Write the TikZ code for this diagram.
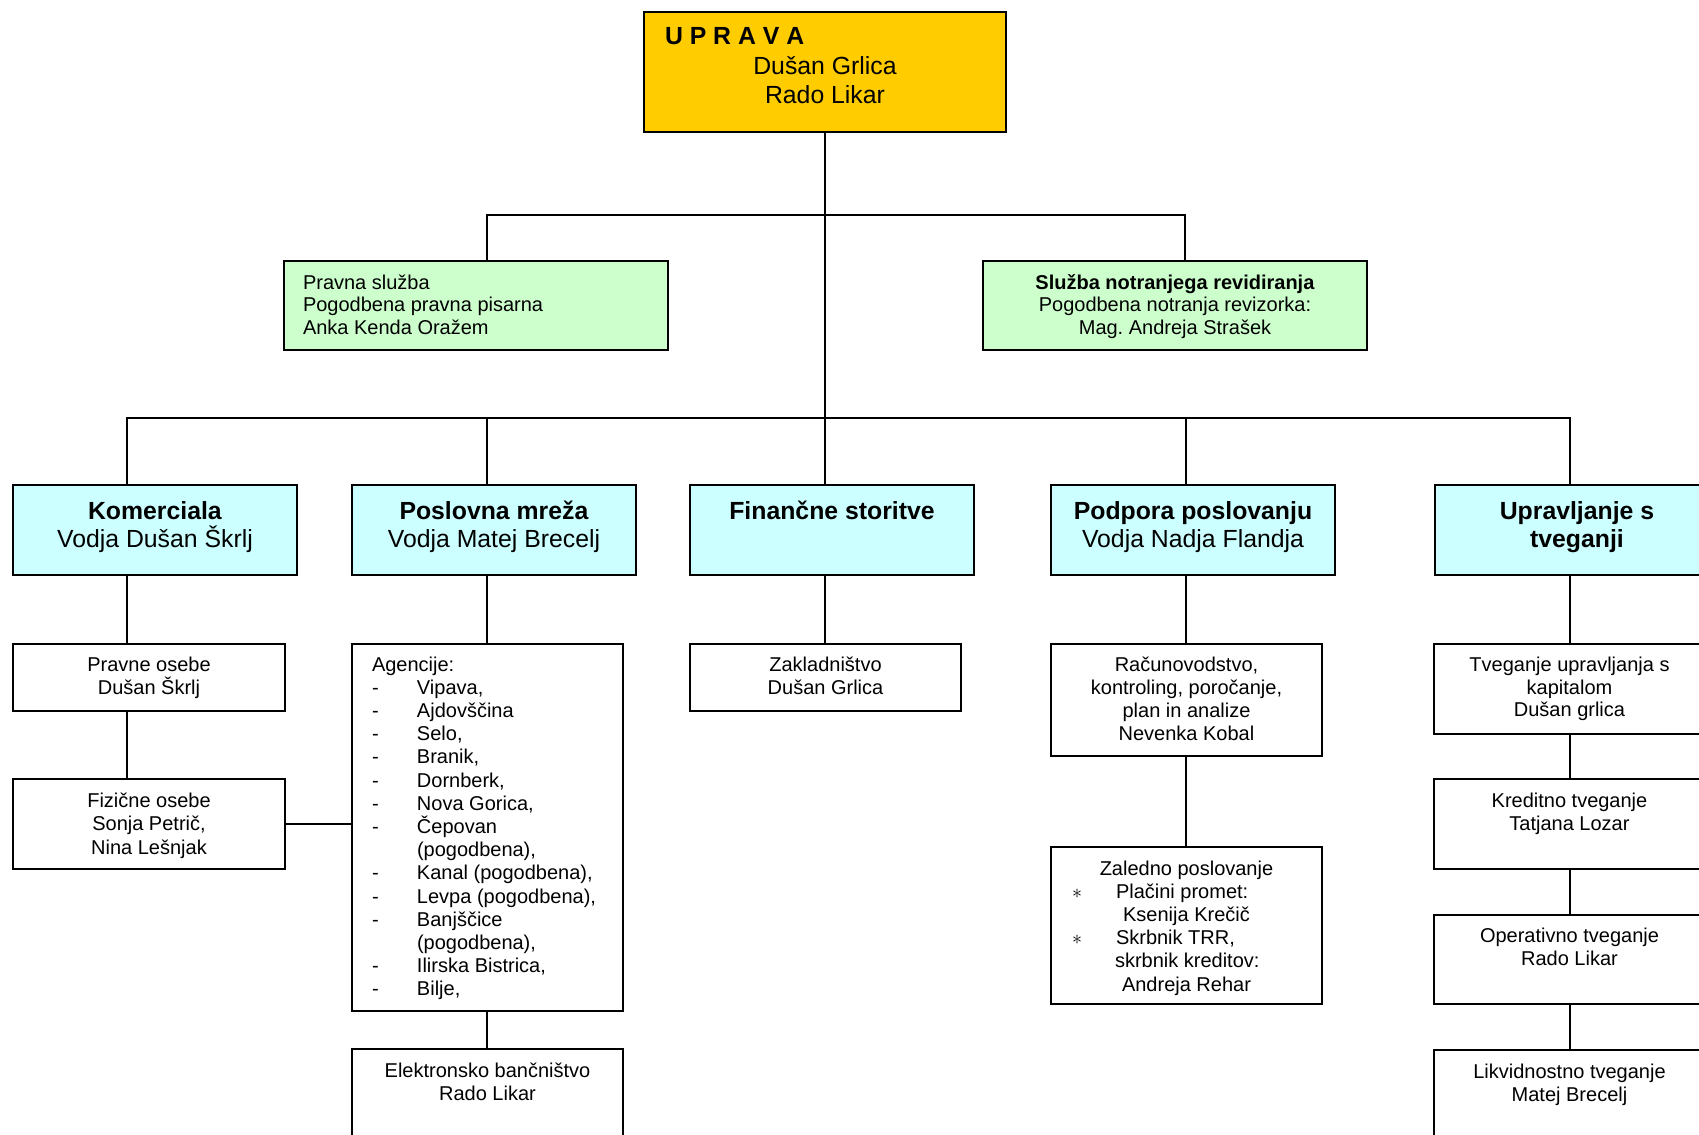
\documentclass[tikz,border=0pt]{standalone}
\usepackage{fontspec}
\setmainfont{Liberation Sans}
\frenchspacing
\definecolor{upy}{HTML}{FFCC00}
\definecolor{grn}{HTML}{CCFFCC}
\definecolor{cyn}{HTML}{CCFFFF}
\newcommand\smf{\fontsize{10pt}{11.6pt}\selectfont}
\newcommand\grf{\fontsize{10pt}{11.3pt}\selectfont}
\newcommand\bgf{\fontsize{12.4pt}{14.3pt}\selectfont}
\newcommand\agitem[1]{\hspace*{10pt}\makebox[22.5pt][l]{-}#1}
\newcommand\zbitem[1]{\hspace*{10.5pt}\makebox[22pt][l]{$\ast$}#1}
\newcommand\ctrline[1]{\makebox[\linewidth][c]{#1}}
\tikzset{
  ob/.style={draw=black, line width=1pt, inner sep=0pt, outer sep=0pt},
  conn/.style={draw=black, line width=0.8pt}
}
\begin{document}
\begin{tikzpicture}[x=0.5pt,y=-0.5pt]
\useasboundingbox (0,0) rectangle (1699,1135);
\fill[white] (0,0) rectangle (1699,1135);
\clip (0,0) rectangle (1699,1135);

% top
\node[ob, fill=upy] (uprava) at (825,72) {\parbox[t][60pt][t]{181pt}{\bgf\rule{0pt}{16pt}\hspace*{10.5pt}\textbf{U P R A V A}\par\vspace{1.2pt}\centering Dušan Grlica\\Rado Likar\par}};

\node[ob, fill=grn] (pravna) at (476,305.5) {\parbox[t][44.5pt][t]{192pt}{\grf\raggedright\leftskip=9.5pt\rule{0pt}{14pt}Pravna služba\\Pogodbena pravna pisarna\\Anka Kenda Oražem\par}};
\node[ob, fill=grn] (reviz) at (1175,305.5) {\parbox[t][44.5pt][t]{192pt}{\grf\centering\rule{0pt}{14pt}\textbf{Služba notranjega revidiranja}\\Pogodbena notranja revizorka:\\Mag. Andreja Strašek\par}};

% second row
\node[ob, fill=cyn] (kom) at (155,530) {\parbox[t][45pt][t]{142pt}{\bgf\centering\rule{0pt}{17pt}\textbf{Komerciala}\\Vodja Dušan Škrlj\par}};
\node[ob, fill=cyn] (posl) at (494,530) {\parbox[t][45pt][t]{142pt}{\bgf\centering\rule{0pt}{17pt}\textbf{Poslovna mreža}\\Vodja Matej Brecelj\par}};
\node[ob, fill=cyn] (fin) at (832,530) {\parbox[t][45pt][t]{142pt}{\bgf\centering\rule{0pt}{17pt}\textbf{Finančne storitve}\par}};
\node[ob, fill=cyn] (podp) at (1193,530) {\parbox[t][45pt][t]{142pt}{\bgf\centering\rule{0pt}{17pt}\textbf{Podpora poslovanju}\\Vodja Nadja Flandja\par}};
\node[ob, fill=cyn] (upr) at (1577,530) {\parbox[t][45pt][t]{142pt}{\bgf\centering\rule{0pt}{17pt}\textbf{Upravljanje s}\\\textbf{tveganji}\par}};

% Komerciala column
\node[ob, fill=white] (pravne) at (149,677.5) {\parbox[t][33.5pt][t]{136pt}{\smf\centering\rule{0pt}{13.5pt}Pravne osebe\\Dušan Škrlj\par}};
\node[ob, fill=white] (fiz) at (149,824) {\parbox[t][45pt][t]{136pt}{\smf\centering\rule{0pt}{14.3pt}Fizične osebe\\Sonja Petrič,\\Nina Lešnjak\par}};

% Poslovna mreza column
\node[ob, fill=white] (agen) at (487.5,827.5) {\parbox[t][183.5pt][t]{135.5pt}{\smf\raggedright
\rule{0pt}{13.5pt}\hspace*{10pt}Agencije:\\
\agitem{Vipava,}\\
\agitem{Ajdovščina}\\
\agitem{Selo,}\\
\agitem{Branik,}\\
\agitem{Dornberk,}\\
\agitem{Nova Gorica,}\\
\agitem{Čepovan}\\
\hspace*{32.5pt}(pogodbena),\\
\agitem{Kanal (pogodbena),}\\
\agitem{Levpa (pogodbena),}\\
\agitem{Banjščice}\\
\hspace*{32.5pt}(pogodbena),\\
\agitem{Ilirska Bistrica,}\\
\agitem{Bilje,}\par}};
\node[ob, fill=white] (elek) at (487.5,1097) {\parbox[t][48pt][t]{135.5pt}{\smf\centering\rule{0pt}{14pt}Elektronsko bančništvo\\Rado Likar\par}};

% Financne storitve column
\node[ob, fill=white] (zak) at (825.5,677.5) {\parbox[t][33.5pt][t]{135.5pt}{\smf\centering\rule{0pt}{13.5pt}Zakladništvo\\Dušan Grlica\par}};

% Podpora column
\node[ob, fill=white] (rac) at (1186.5,700) {\parbox[t][56pt][t]{135.5pt}{\smf\centering\rule{0pt}{13.5pt}Računovodstvo,\\kontroling, poročanje,\\plan in analize\\Nevenka Kobal\par}};
\node[ob, fill=white] (zal) at (1186.5,925.5) {\parbox[t][78.5pt][t]{135.5pt}{\smf
\ctrline{\rule{0pt}{14pt}Zaledno poslovanje}\\
\zbitem{Plačini promet:}\\
\ctrline{Ksenija Krečič}\\
\zbitem{Skrbnik TRR,}\\
\hspace*{32pt}skrbnik kreditov:\\
\ctrline{Andreja Rehar}\par}};

% Upravljanje s tveganji column
\node[ob, fill=white] (tveg) at (1569.5,689) {\parbox[t][45pt][t]{135.5pt}{\smf\baselineskip=11.3pt\centering\rule{0pt}{13.8pt}Tveganje upravljanja s\\kapitalom\\Dušan grlica\par}};
\node[ob, fill=white] (kred) at (1569.5,824) {\parbox[t][45pt][t]{135.5pt}{\smf\centering\rule{0pt}{14pt}Kreditno tveganje\\Tatjana Lozar\par}};
\node[ob, fill=white] (oper) at (1569.5,959.5) {\parbox[t][44.5pt][t]{135.5pt}{\smf\centering\rule{0pt}{13.5pt}Operativno tveganje\\Rado Likar\par}};
\node[ob, fill=white] (likv) at (1569.5,1095) {\parbox[t][45pt][t]{135.5pt}{\smf\centering\rule{0pt}{14pt}Likvidnostno tveganje\\Matej Brecelj\par}};

% junction points
\coordinate (c1l) at (487,215);
\coordinate (c1r) at (1185,215);
\coordinate (k1) at (127,418);
\coordinate (k2) at (487,418);
\coordinate (k4) at (1186,418);
\coordinate (k5) at (1570,418);
\coordinate (k3) at (uprava.south |- k1);

% connectors
\draw[conn] (uprava.south) -- (k3);
\draw[conn] (pravna.north -| c1l) |- (c1r) -- (reviz.north -| c1r);
\draw[conn] (kom.north -| k1) |- (k5) -- (upr.north -| k5);
\draw[conn] (k2) -- (posl.north -| k2);
\draw[conn] (k3) -- (fin.north -| k3);
\draw[conn] (k4) -- (podp.north -| k4);

\draw[conn] (kom.south -| k1) -- (pravne.north -| k1);
\draw[conn] (pravne.south -| k1) -- (fiz.north -| k1);
\draw[conn] (fiz.east) -- (fiz.east -| agen.west);

\draw[conn] (posl.south -| k2) -- (agen.north -| k2);
\draw[conn] (agen.south -| k2) -- (elek.north -| k2);

\draw[conn] (fin.south -| k3) -- (zak.north -| k3);

\draw[conn] (podp.south -| k4) -- (rac.north -| k4);
\draw[conn] (rac.south -| k4) -- (zal.north -| k4);

\draw[conn] (upr.south -| k5) -- (tveg.north -| k5);
\draw[conn] (tveg.south -| k5) -- (kred.north -| k5);
\draw[conn] (kred.south -| k5) -- (oper.north -| k5);
\draw[conn] (oper.south -| k5) -- (likv.north -| k5);
\end{tikzpicture}
\end{document}
